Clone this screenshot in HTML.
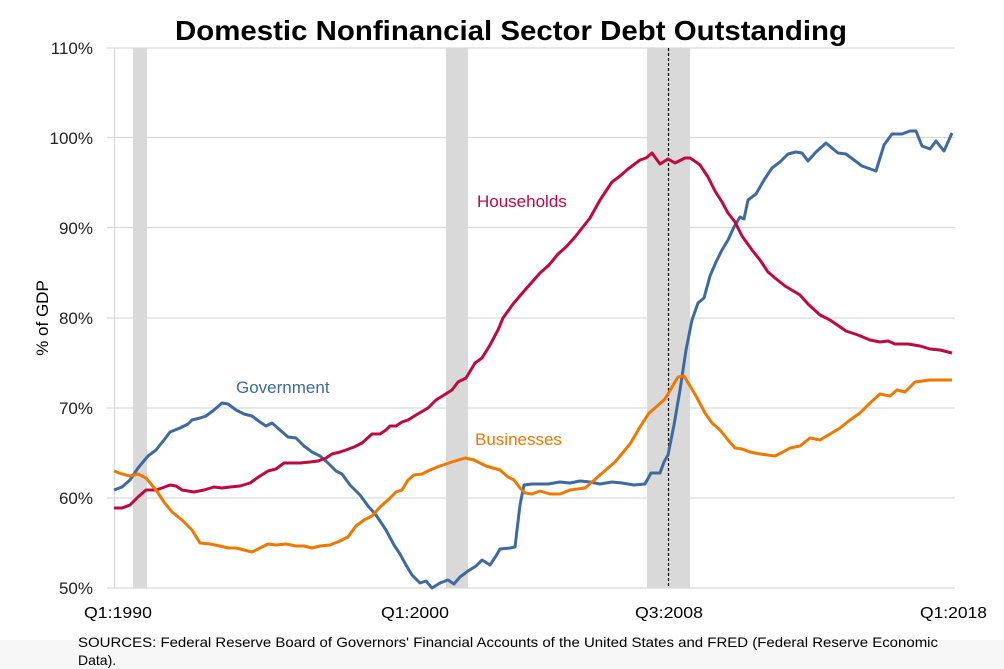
<!DOCTYPE html>
<html><head><meta charset="utf-8"><style>
html,body{margin:0;padding:0;background:#fff;}
svg{display:block;font-family:"Liberation Sans",sans-serif;}
</style></head><body>
<svg width="1004" height="669" viewBox="0 0 1004 669" xmlns="http://www.w3.org/2000/svg">
<rect width="1004" height="669" fill="#fff"/>
<rect x="0" y="640" width="1004" height="29" fill="#f7f7f7"/>
<text x="511" y="40" text-anchor="middle" font-size="28" font-weight="bold" textLength="672" lengthAdjust="spacingAndGlyphs" fill="#000">Domestic Nonfinancial Sector Debt Outstanding</text>
<g stroke="#d9d9d9" stroke-width="1.3">
<line x1="107" y1="48" x2="955" y2="48"/>
<line x1="107" y1="137.5" x2="955" y2="137.5"/>
<line x1="107" y1="227.5" x2="955" y2="227.5"/>
<line x1="107" y1="318" x2="955" y2="318"/>
<line x1="107" y1="408" x2="955" y2="408"/>
<line x1="107" y1="498" x2="955" y2="498"/>
<line x1="107" y1="588" x2="955" y2="588"/>
<line x1="114.5" y1="48" x2="114.5" y2="588"/>
</g>
<g fill="#d9d9d9">
<rect x="133" y="48" width="14" height="540"/>
<rect x="446" y="48" width="22" height="540"/>
<rect x="647" y="48" width="43" height="540"/>
</g>
<line x1="668.5" y1="48" x2="668.5" y2="588" stroke="#000" stroke-width="1.2" stroke-dasharray="3,2"/>
<g font-size="17" fill="#222" text-anchor="end">
<text x="93" y="54">110%</text><text x="93" y="144">100%</text><text x="93" y="234">90%</text>
<text x="93" y="324">80%</text><text x="93" y="414">70%</text><text x="93" y="504">60%</text><text x="93" y="594">50%</text>
</g>
<text transform="translate(48,318) rotate(-90)" text-anchor="middle" font-size="17" fill="#000">% of GDP</text>
<g font-size="16" fill="#000">
<text x="84" y="618" textLength="68" lengthAdjust="spacingAndGlyphs">Q1:1990</text>
<text x="381" y="618" textLength="68" lengthAdjust="spacingAndGlyphs">Q1:2000</text>
<text x="635" y="618" textLength="68" lengthAdjust="spacingAndGlyphs">Q3:2008</text>
<text x="920" y="618" textLength="67" lengthAdjust="spacingAndGlyphs">Q1:2018</text>
</g>
<text x="78" y="647" font-size="14" fill="#000" textLength="860" lengthAdjust="spacingAndGlyphs">SOURCES: Federal Reserve Board of Governors' Financial Accounts of the United States and FRED (Federal Reserve Economic</text>
<text x="78" y="665" font-size="14" fill="#000">Data).</text>
<g fill="none" stroke-width="3" stroke-linejoin="round">
<polyline stroke="#3d6aa1" points="114,490 122,487 130,480 138,468 148,456 156,450 164,440 170,432 180,428 188,424 192,420 200,418 206,416 214,410 222,403 228,404 236,410 244,414 252,416 260,422 266,426 272,423 280,430 288,437 296,438 304,446 312,452 320,456 328,463 336,471 342,474 350,485 360,495 368,506 376,515 386,530 394,545 400,554 406,565 412,575 420,583 426,581 432,588 440,583 448,580 454,584 460,577 468,571 476,566 482,560 490,565 496,556 500,549 510,548 515,547 520,505 524,485 532,484 548,484 560,482 570,483 580,481 590,482 600,484 612,482 622,483 634,485 645,484 651,473 660,473 664,462 668,455 674,425 680,390 686,350 692,320 698,303 704,298 710,276 716,262 722,250 728,240 734,227 740,217 744,219 748,200 756,194 764,180 772,168 780,162 788,154 796,152 802,153 808,161 816,152 826,143 832,148 838,153 846,154 854,160 862,166 876,171 884,145 892,134 902,134 910,131 916,131 922,146 930,149 936,141 944,151 952,133"/>
<polyline stroke="#c0093f" points="114,508 122,508 130,505 138,497 146,490 156,490 162,488 170,485 176,486 182,490 194,492 204,490 214,487 222,488 230,487 240,486 250,483 260,476 268,471 276,469 284,463 292,463 300,463 310,462 318,461 326,458 332,454 340,452 346,450 354,447 362,443 372,434 380,434 386,430 390,426 396,426 402,422 408,420 416,415 428,408 436,400 444,395 452,390 458,382 466,378 475,363 482,358 490,345 498,330 503,318 513,304 525,290 540,273 549,265 558,254 566,247 575,237 590,218 600,200 612,182 620,176 628,169 640,160 646,158 652,153 660,164 668,159 675,163 685,158 690,158 696,162 700,165 708,177 715,191 722,202 728,213 735,222 742,236 752,250 760,260 768,272 775,278 785,286 800,295 808,304 820,315 830,320 846,331 858,335 870,340 880,342 888,341 895,344 908,344 920,346 930,349 940,350 952,353"/>
<polyline stroke="#f07800" points="114,471 122,474 130,476 138,474 146,478 156,490 164,502 172,512 182,520 192,530 200,543 210,544 220,546 228,548 236,548 244,550 252,552 260,548 268,544 276,545 286,544 296,546 304,546 312,548 320,546 330,545 340,541 348,537 356,526 364,520 372,516 380,507 388,500 396,492 402,490 408,480 414,475 422,474 430,470 440,466 452,462 465,458 474,460 486,466 500,470 508,477 514,480 520,488 525,493 532,494 540,491 550,494 560,494 570,490 585,488 600,475 615,462 630,444 640,427 649,413 655,408 665,399 672,387 678,377 684,376 690,386 696,396 705,413 712,423 720,430 728,440 735,448 742,449 750,452 760,454 775,456 783,452 790,448 800,446 810,438 820,440 830,434 840,428 850,420 860,413 870,403 880,394 890,396 897,390 905,392 915,382 930,380 940,380 952,380"/>
</g>
<text x="236" y="393" font-size="17" fill="#3d6aa1">Government</text>
<text x="477" y="207" font-size="17" fill="#c0093f">Households</text>
<text x="475" y="445" font-size="17" fill="#f07800">Businesses</text>
</svg>
</body></html>
